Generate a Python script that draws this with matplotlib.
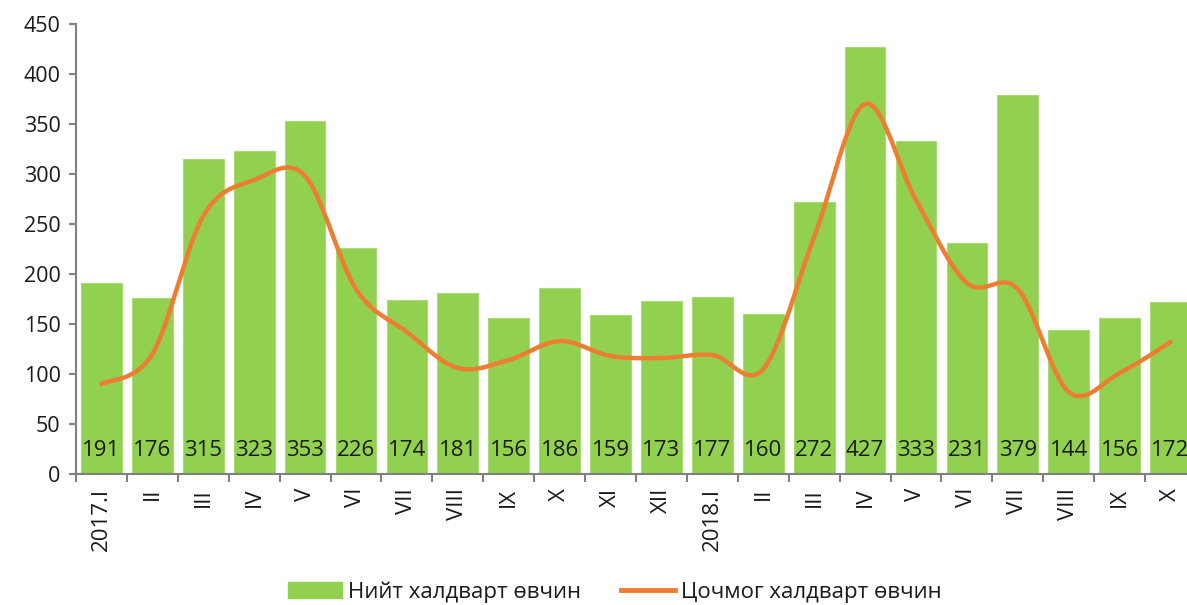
import numpy as np
import matplotlib
matplotlib.use("Agg")
import matplotlib.pyplot as plt
from matplotlib.lines import Line2D
from matplotlib.patches import Patch

plt.rcParams['font.family'] = ['Open Sans', 'DejaVu Sans']

labels = ["2017.I", "II", "III", "IV", "V", "VI", "VII", "VIII", "IX", "X", "XI", "XII",
          "2018.I", "II", "III", "IV", "V", "VI", "VII", "VIII", "IX", "X"]
total = [191, 176, 315, 323, 353, 226, 174, 181, 156, 186, 159, 173,
         177, 160, 272, 427, 333, 231, 379, 144, 156, 172]
acute = [90, 120, 258, 294, 298, 185, 142, 106, 114, 133, 118, 116,
         119, 105, 237, 370, 274, 191, 185, 82, 101, 132]

bar_color = "#92D050"
line_color = "#ED7D31"
axis_color = "#7F7F7F"


def smooth(xs, ys, n=30):
    xs = np.asarray(xs, float)
    ys = np.asarray(ys, float)
    px, py = [], []
    m = len(xs)
    for i in range(m - 1):
        x0, y0 = xs[i], ys[i]
        x1, y1 = xs[i + 1], ys[i + 1]
        xm = xs[i - 1] if i > 0 else x0
        ym = ys[i - 1] if i > 0 else y0
        xp = xs[i + 2] if i + 2 < m else x1
        yp = ys[i + 2] if i + 2 < m else y1
        c1x, c1y = x0 + (x1 - xm) / 6, y0 + (y1 - ym) / 6
        c2x, c2y = x1 - (xp - x0) / 6, y1 - (yp - y0) / 6
        t = np.linspace(0, 1, n, endpoint=(i == m - 2))
        a = (1 - t) ** 3
        b = 3 * (1 - t) ** 2 * t
        c = 3 * (1 - t) * t ** 2
        d = t ** 3
        px.extend(a * x0 + b * c1x + c * c2x + d * x1)
        py.extend(a * y0 + b * c1y + c * c2y + d * y1)
    return np.array(px), np.array(py)


fig = plt.figure(figsize=(11.87, 6.05), dpi=100)
ax = fig.add_axes([76 / 1187, 1 - 474 / 605, 1120 / 1187, 450 / 605])

x = np.arange(len(labels))
ax.bar(x, total, width=0.8, color=bar_color, edgecolor="#A9DA74", linewidth=0.8, zorder=2)
sx, sy = smooth(x, acute)
ax.plot(sx, sy, color=line_color, linewidth=3.2, solid_capstyle='round', zorder=3)

for xi, v in zip(x, total):
    ax.text(xi, 24, str(v), ha='center', va='center', fontsize=16, color='#1a1a1a', zorder=4)

ax.set_xlim(-0.5, len(labels) - 0.5)
ax.set_ylim(0, 450)
ax.set_yticks(np.arange(0, 451, 50))
ax.tick_params(axis='y', labelsize=15.5, length=5, color=axis_color, width=1.5, pad=6,
               labelcolor='#1a1a1a')
ax.set_xticks(x)
ax.set_xticklabels(labels, rotation=90, fontsize=16, color='#1a1a1a')
ax.tick_params(axis='x', which='major', length=0, pad=10)
ax.set_xticks(np.arange(-0.5, len(labels), 1), minor=True)
ax.tick_params(axis='x', which='minor', length=6, color=axis_color, width=1.5)

for s in ['top', 'right']:
    ax.spines[s].set_visible(False)
for s in ['left', 'bottom']:
    ax.spines[s].set_color(axis_color)
    ax.spines[s].set_linewidth(1.5)

handles = [Patch(facecolor=bar_color, edgecolor=bar_color, label="Нийт халдварт өвчин"),
           Line2D([0], [0], color=line_color, lw=3.5, label="Цочмог халдварт өвчин")]
fig.legend(handles=handles, loc='center', bbox_to_anchor=(615 / 1187, 1 - 592 / 605),
           ncol=2, frameon=False, fontsize=16, handlelength=2.4, columnspacing=1.8,
           handletextpad=0.3, labelcolor='#1a1a1a')

fig.savefig("out.png", dpi=100)
